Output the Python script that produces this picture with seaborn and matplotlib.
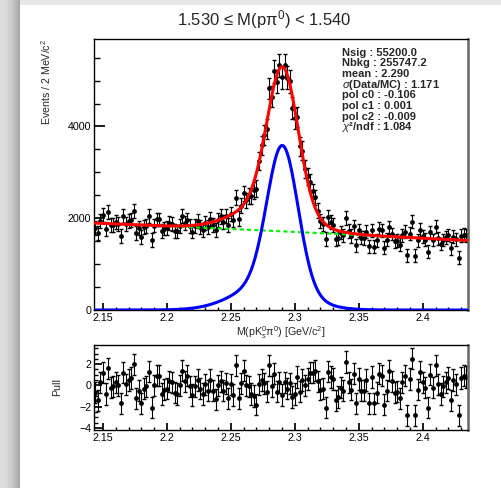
import numpy as np
import pandas as pd
import matplotlib
matplotlib.use("Agg")
import matplotlib.pyplot as plt
import seaborn as sns
from matplotlib.ticker import MultipleLocator, FixedLocator, FixedFormatter

# ---- data ----
x_lo, x_hi, bin_w = 2.143, 2.435, 0.002

counts = [1787, 1679, 1935, 2069, 1763, 2126, 1850, 1862, 1921, 1873, 1614, 2050, 1881, 1939, 1967, 2161,
          1676, 1779, 1596, 1805, 1833, 2041, 1528, 1841, 1974, 1973, 1716, 1774, 1788, 1892, 1876, 1726,
          1711, 1831, 2042, 1894, 1972, 1825, 1709, 1834, 1931, 1818, 1751, 1898, 1818, 1984, 1846, 1739,
          1957, 2039, 1920, 2052, 1857, 2090, 1961, 2451, 1990, 2273, 2541, 2389, 2477, 2484, 2606, 2645,
          3241, 3589, 3819, 3947, 4829, 4653, 5200, 4977, 5332, 5072, 5336, 5059, 4982, 4407, 4178, 4209,
          3567, 3472, 3069, 2912, 2783, 2584, 2453, 2162, 1939, 1881, 1553, 2022, 1912, 1855, 1541, 1569,
          1684, 1629, 2006, 1723, 1614, 1821, 1415, 1736, 1574, 1569, 1706, 1391, 1739, 1383, 1520, 1770,
          1739, 1357, 1536, 1799, 1656, 1499, 1510, 1423, 1630, 1710, 1193, 1663, 1924, 1185, 1515, 1749,
          1607, 1535, 1270, 1695, 1526, 1813, 1562, 1435, 1529, 1581, 1633, 1342, 1599, 1542, 1142, 1618,
          1642, 1625]

errors = [152, 152, 152, 152, 152, 152, 152, 152, 152, 151, 151, 151, 151, 151, 151, 151, 151, 151, 151,
          151, 150, 150, 150, 150, 150, 150, 150, 150, 150, 150, 150, 150, 150, 150, 150, 150, 150, 150,
          150, 151, 151, 151, 151, 152, 152, 153, 153, 154, 155, 156, 156, 157, 158, 159, 161, 162, 164,
          166, 168, 171, 175, 179, 185, 191, 199, 207, 215, 224, 232, 239, 246, 251, 254, 255, 254, 251,
          246, 239, 231, 222, 213, 203, 194, 185, 177, 171, 165, 160, 157, 154, 151, 150, 148, 147, 146,
          145, 145, 144, 144, 143, 143, 143, 142, 142, 142, 142, 142, 141, 141, 141, 141, 141, 141, 140,
          140, 140, 140, 140, 140, 140, 139, 139, 139, 139, 139, 139, 139, 139, 138, 138, 138, 138, 138,
          138, 138, 138, 137, 137, 137, 137, 137, 137, 137, 137, 136, 136]

pulls = [-0.7, -1.4, 0.3, 1.2, -0.8, 1.6, -0.2, -0.1, 0.3, 0.0, -1.7, 1.2, 0.1, 0.5, 0.7, 2.0,
         -1.2, -0.5, -1.7, -0.3, -0.1, 1.3, -2.1, 0.0, 0.9, 0.9, -0.8, -0.4, -0.3, 0.4, 0.3,
         -0.7, -0.8, 0.0, 1.4, 0.4, 0.9, -0.1, -0.9, -0.1, 0.5, -0.3, -0.8, 0.1, -0.5, 0.5,
         -0.5, -1.3, 0.0, 0.4, -0.5, 0.2, -1.2, 0.1, -0.9, 1.9, -1.2, 0.2, 1.4, 0.0, -0.1,
         -0.8, -1.0, -1.8, 0.1, 0.5, 0.2, -0.6, 1.9, -0.1, 1.1, -0.6, 0.3, -0.9, 0.3, -0.3,
         0.2, -1.1, -0.8, 0.8, -0.6, 0.5, 0.0, 0.6, 1.2, 1.2, 1.4, 0.4, -0.4, -0.3, -2.1, 1.3,
         0.8, 0.6, -1.4, -1.1, -0.2, -0.5, 2.2, 0.3, -0.4, 1.1, -1.7, 0.6, -0.5, -0.5, 0.5,
         -1.7, 0.8, -1.7, -0.7, 1.1, 0.9, -1.8, -0.5, 1.4, 0.4, -0.7, -0.6, -1.2, 0.3, 0.9,
         -2.8, 0.6, 2.5, -2.8, -0.4, 1.3, 0.3, -0.2, -2.1, 1.0, -0.2, 1.9, 0.1, -0.8, -0.1,
         0.3, 0.7, -1.4, 0.5, 0.1, -2.8, 0.7, 0.9, 0.8]

# fit model parameters (signal: core + tail gaussian, background: quadratic)
sig_mean, sig_sigma, sig_amp = 2.2905, 0.012, 3050
tail_mean, tail_sigma, tail_amp = 2.280, 0.026, 580
bkg_x = [2.143, 2.29, 2.435]
bkg_y = [1895, 1715, 1515]

xtick_vals = [2.15, 2.2, 2.25, 2.3, 2.35, 2.4]
xtick_labels = ["2.15", "2.2", "2.25", "2.3", "2.35", "2.4"]
ytick_main = [0, 2000, 4000]
ytick_pull = [-4, -2, 0, 2]

title = "1.530 \u2264 M(p\u03c0$^{0}$) < 1.540"
info_labels = ["Nsig : 55200.0", "Nbkg : 255747.2", "mean : 2.290", "$\\sigma$(Data/MC) : 1.171",
               "pol c0 : -0.106", "pol c1 : 0.001", "pol c2 : -0.009", "$\\chi$\u00b2/ndf : 1.084"]

# ---- derived ----
centers = x_lo + bin_w * (np.arange(len(counts)) + 0.5)
coef = np.polyfit(bkg_x, bkg_y, 2)

def sig(x):
    return (sig_amp*np.exp(-0.5*((x-sig_mean)/sig_sigma)**2)
            + tail_amp*np.exp(-0.5*((x-tail_mean)/tail_sigma)**2))

def bkg(x):
    return np.polyval(coef, x)

data = pd.DataFrame({"x": centers, "counts": counts, "err": errors, "pull": pulls})

sns.set_theme(style="ticks")
plt.rcParams['font.family'] = ['Liberation Sans', 'DejaVu Sans']
plt.rcParams['mathtext.fontset'] = 'custom'
plt.rcParams['mathtext.rm'] = 'Liberation Sans'
plt.rcParams['mathtext.it'] = 'Liberation Sans:italic'
plt.rcParams['mathtext.bf'] = 'Liberation Sans:bold'

fig = plt.figure(figsize=(5.01, 4.88), dpi=100)

# page background with left/top shadow
bgax = fig.add_axes([0, 0, 1, 1], zorder=-10)
H, W = 488, 501
xs = np.arange(W)
shade = np.where(xs < 20, 0.87 - 0.22*(xs/19.0)**2, 1.0)
img = np.repeat(np.repeat(shade[None, :, None], H, axis=0), 3, axis=2)
img[:5] = np.minimum(img[:5], 0.91)
bgax.imshow(img, aspect='auto', extent=[0, 1, 0, 1])
bgax.axis('off')

ax = fig.add_axes([94/501, 1-310/488, 373.5/501, 270.7/488])
ax2 = fig.add_axes([94/501, 1-430/488, 373.5/501, 85/488])
for a in (ax, ax2):
    a.set_facecolor('white')

ax.errorbar(data["x"], data["counts"], yerr=data["err"], fmt='none', ecolor='black',
            elinewidth=0.8, capsize=1.2, zorder=2)
sns.scatterplot(data=data, x="x", y="counts", ax=ax, color='black', s=12, linewidth=0, zorder=2)
xx = np.linspace(x_lo, x_hi, 600)
sns.lineplot(x=xx, y=bkg(xx), ax=ax, color='#00ee00', lw=1.5, linestyle=(0, (2, 1.5)), zorder=3)
sns.lineplot(x=xx, y=sig(xx), ax=ax, color='blue', lw=2.2, zorder=3)
sns.lineplot(x=xx, y=sig(xx) + bkg(xx), ax=ax, color='red', lw=2.2, zorder=3)
ax.set_xlim(x_lo, x_hi)
ax.set_ylim(0, 5900)

ax2.errorbar(data["x"], data["pull"], yerr=1, fmt='none', ecolor='black', elinewidth=0.8, capsize=1.2)
sns.scatterplot(data=data, x="x", y="pull", ax=ax2, color='black', s=12, linewidth=0)
ax2.set_xlim(x_lo, x_hi)
ax2.set_ylim(-4.2, 3.8)

for a in (ax, ax2):
    a.xaxis.set_major_locator(FixedLocator(xtick_vals))
    a.xaxis.set_major_formatter(FixedFormatter(xtick_labels))
    a.xaxis.set_minor_locator(MultipleLocator(0.01))
    a.tick_params(axis='both', which='both', direction='in', top=False, right=False,
                  labelsize=7.7, pad=2, colors='black')
    a.tick_params(axis='x', which='major', length=5)
    a.tick_params(axis='x', which='minor', length=2.5)
    for s in a.spines.values():
        s.set_linewidth(1.0)
        s.set_color('black')
    a.spines['right'].set_linewidth(1.8)
    a.spines['right'].set_color('#666666')

ax.yaxis.set_major_locator(FixedLocator(ytick_main))
ax.yaxis.set_minor_locator(MultipleLocator(500))
ax.tick_params(axis='y', which='major', length=8)
ax.tick_params(axis='y', which='minor', length=4)
ax2.yaxis.set_major_locator(FixedLocator(ytick_pull))
ax2.yaxis.set_minor_locator(MultipleLocator(0.5))
ax2.tick_params(axis='y', which='major', length=6)
ax2.tick_params(axis='y', which='minor', length=3)

ax.set_ylabel("Events / 2 MeV/c$^{2}$", fontsize=7.7, loc='top')
ax.yaxis.set_label_coords(-0.11, 1.0)
ax.set_xlabel("M(pK$^{0}_{s}$\u03c0$^{0}$) [GeV/c$^{2}$]", fontsize=7.7, labelpad=1)
ax2.set_xlabel("")
ax2.set_ylabel("Pull", fontsize=7.7)
ax2.yaxis.set_label_coords(-0.085, 0.5)

fig.text(264/501, 1-20/488, title, ha='center', va='center', fontsize=12)
for i, t in enumerate(info_labels):
    yb = 55.5 + 10.7*i
    fig.text(342/501, 1-yb/488, t, ha='left', va='baseline', fontsize=8, fontweight='bold')

fig.savefig("out.png", dpi=100)
